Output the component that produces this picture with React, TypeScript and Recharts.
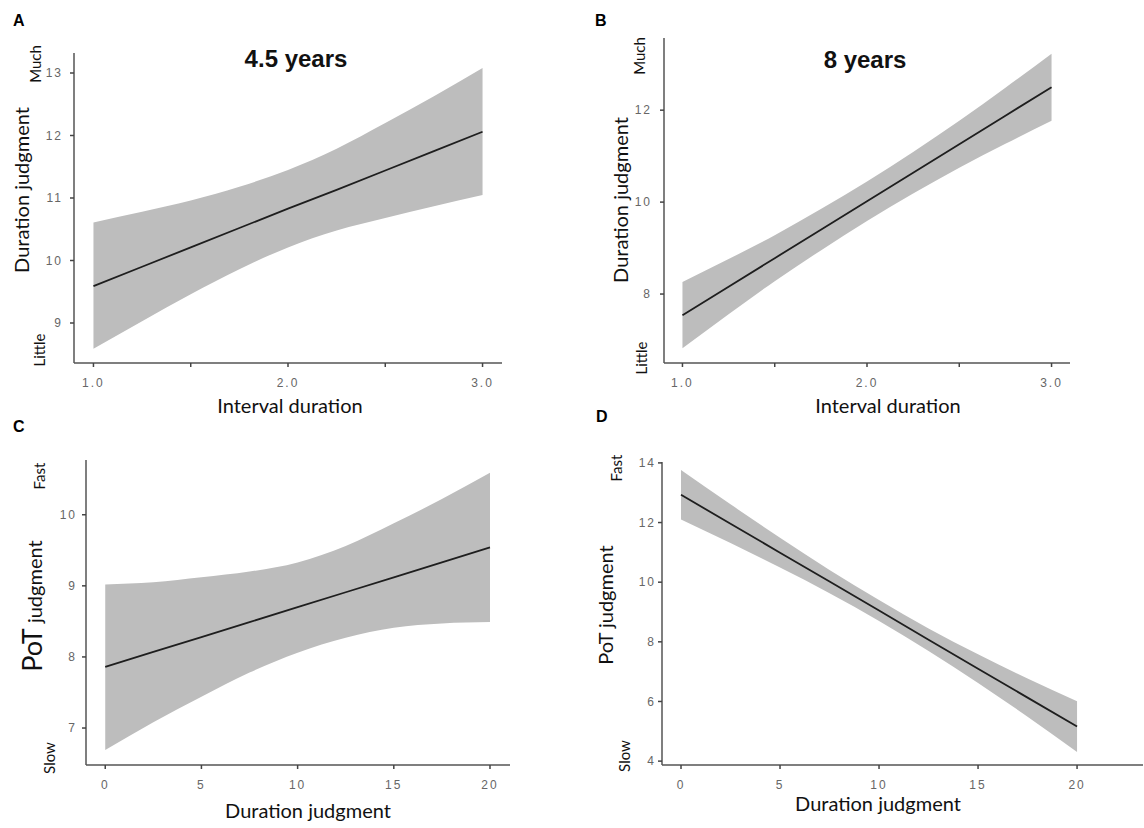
import React from "react";
import {
  ComposedChart,
  Area,
  Line,
  XAxis,
  YAxis,
} from "recharts";

// Panel A: 4.5 years
const xA = [1, 1.25, 1.5, 1.75, 2, 2.25, 2.5, 2.75, 3];
const fitA = [9.59, 9.9, 10.21, 10.52, 10.83, 11.13, 11.44, 11.75, 12.06];
const loA = [8.59, 9.03, 9.46, 9.86, 10.21, 10.48, 10.68, 10.87, 11.05];
const hiA = [10.61, 10.78, 10.96, 11.18, 11.45, 11.79, 12.2, 12.63, 13.08];

// Panel B: 8 years
const xB = [1, 1.25, 1.5, 1.75, 2, 2.25, 2.5, 2.75, 3];
const fitB = [7.54, 8.16, 8.78, 9.4, 10.02, 10.64, 11.26, 11.88, 12.5];
const loB = [6.82, 7.56, 8.28, 8.95, 9.59, 10.19, 10.75, 11.27, 11.77];
const hiB = [8.26, 8.76, 9.28, 9.85, 10.45, 11.09, 11.77, 12.49, 13.23];

// Panel C
const xC = [0, 2.5, 5, 7.5, 10, 12.5, 15, 17.5, 20];
const fitC = [7.86, 8.07, 8.28, 8.49, 8.7, 8.91, 9.12, 9.33, 9.54];
const loC = [6.69, 7.08, 7.44, 7.78, 8.06, 8.27, 8.41, 8.47, 8.49];
const hiC = [9.02, 9.05, 9.12, 9.2, 9.33, 9.56, 9.88, 10.22, 10.59];

// Panel D
const xD = [0, 2.5, 5, 7.5, 10, 12.5, 15, 17.5, 20];
const fitD = [12.93, 11.96, 10.99, 10.02, 9.05, 8.07, 7.1, 6.13, 5.16];
const loD = [12.1, 11.31, 10.49, 9.63, 8.7, 7.69, 6.62, 5.49, 4.31];
const hiD = [13.76, 12.61, 11.49, 10.41, 9.4, 8.45, 7.58, 6.77, 6.01];

const intervalTicks = [1, 1.5, 2, 2.5, 3];
const judgmentTicks = [0, 5, 10, 15, 20];
const yTicksA = [9, 10, 11, 12, 13];
const yTicksB = [8, 10, 12];
const yTicksC = [7, 8, 9, 10];
const yTicksD = [4, 6, 8, 10, 12, 14];

const build = (xs: number[], fit: number[], lo: number[], hi: number[]) =>
  xs.map((x, i) => ({ x, fit: fit[i], band: [lo[i], hi[i]] }));

const tickStyle = {
  fill: "#666",
  fontSize: 12,
  fontFamily: "Liberation Sans, Arial, sans-serif",
  letterSpacing: 2,
};

const intervalFmt = (v: number) => (v === 1.5 || v === 2.5 ? "" : v.toFixed(1));

interface PanelProps {
  data: { x: number; fit: number; band: number[] }[];
  width: number;
  height: number;
  margin: { top: number; right: number; bottom: number; left: number };
  xDomain: [number, number];
  yDomain: [number, number];
  xTicks: number[];
  yTicks: number[];
  xFmt?: (v: number) => string;
  yMargin: number;
}

function Panel(p: PanelProps) {
  return (
    <ComposedChart width={p.width} height={p.height} data={p.data} margin={p.margin}>
      <XAxis
        dataKey="x"
        type="number"
        domain={p.xDomain}
        allowDataOverflow
        ticks={p.xTicks}
        tickFormatter={p.xFmt}
        interval={0}
        height={30}
        tickSize={4}
        tickMargin={11}
        tick={tickStyle}
        axisLine={{ stroke: "#555", strokeWidth: 1.5 }}
        tickLine={{ stroke: "#444", strokeWidth: 1.5 }}
      />
      <YAxis
        type="number"
        domain={p.yDomain}
        allowDataOverflow
        ticks={p.yTicks}
        interval={0}
        width={40}
        tickSize={4}
        tickMargin={p.yMargin}
        tick={tickStyle}
        axisLine={{ stroke: "#555", strokeWidth: 1.5 }}
        tickLine={{ stroke: "#444", strokeWidth: 1.5 }}
      />
      <Area
        dataKey="band"
        type="monotone"
        fill="#bdbdbd"
        fillOpacity={1}
        stroke="none"
        isAnimationActive={false}
      />
      <Line
        dataKey="fit"
        type="linear"
        stroke="#1e1e1e"
        strokeWidth={1.8}
        dot={false}
        isAnimationActive={false}
      />
    </ComposedChart>
  );
}

const labelFont = "Lato, 'Open Sans', sans-serif";
const boldFont = "Liberation Sans, Arial, sans-serif";

function VText({ x, y, size, children }: { x: number; y: number; size: number; children: React.ReactNode }) {
  return (
    <text
      x={x}
      y={y}
      transform={`rotate(-90, ${x}, ${y})`}
      textAnchor="middle"
      fontFamily={labelFont}
      fontSize={size}
      fill="#111"
    >
      {children}
    </text>
  );
}

export default function App() {
  return (
    <div
      style={{
        position: "absolute",
        left: 0,
        top: 0,
        width: 1144,
        height: 828,
        background: "#fff",
        overflow: "hidden",
      }}
    >
      <div style={{ position: "absolute", left: 0, top: 0 }}>
        <Panel
          data={build(xA, fitA, loA, hiA)}
          width={572}
          height={420}
          margin={{ top: 53, right: 70, bottom: 27, left: 34 }}
          xDomain={[0.9, 3.1]}
          yDomain={[8.36, 13.32]}
          xTicks={intervalTicks}
          yTicks={yTicksA}
          xFmt={intervalFmt}
          yMargin={7}
        />
      </div>
      <div style={{ position: "absolute", left: 572, top: 0 }}>
        <Panel
          data={build(xB, fitB, loB, hiB)}
          width={572}
          height={420}
          margin={{ top: 38, right: 74, bottom: 27, left: 52 }}
          xDomain={[0.9, 3.1]}
          yDomain={[6.5, 13.57]}
          xTicks={intervalTicks}
          yTicks={yTicksB}
          xFmt={intervalFmt}
          yMargin={8}
        />
      </div>
      <div style={{ position: "absolute", left: 0, top: 420 }}>
        <Panel
          data={build(xC, fitC, loC, hiC)}
          width={572}
          height={408}
          margin={{ top: 40, right: 62, bottom: 33, left: 46 }}
          xDomain={[-1, 21.04]}
          yDomain={[6.48, 10.77]}
          xTicks={judgmentTicks}
          yTicks={yTicksC}
          yMargin={5}
        />
      </div>
      <div style={{ position: "absolute", left: 572, top: 420 }}>
        <Panel
          data={build(xD, fitD, loD, hiD)}
          width={572}
          height={408}
          margin={{ top: 42, right: 1, bottom: 33, left: 50 }}
          xDomain={[-0.96, 23.33]}
          yDomain={[3.87, 14.03]}
          xTicks={judgmentTicks}
          yTicks={yTicksD}
          yMargin={2}
        />
      </div>

      <svg
        width={1144}
        height={828}
        style={{ position: "absolute", left: 0, top: 0, pointerEvents: "none" }}
      >
        {/* panel letters */}
        <g fontFamily={boldFont} fontWeight="bold" fontSize={16} fill="#000">
          <text x={13} y={26}>A</text>
          <text x={595} y={26}>B</text>
          <text x={13} y={432}>C</text>
          <text x={596} y={422}>D</text>
        </g>
        {/* titles */}
        <g fontFamily={boldFont} fontWeight="bold" fontSize={24} fill="#111" textAnchor="middle">
          <text x={296} y={67}>4.5 years</text>
          <text x={865} y={68}>8 years</text>
        </g>
        {/* x axis titles */}
        <g fontFamily={labelFont} fontSize={20} fill="#111" textAnchor="middle">
          <text x={290} y={413}>Interval duration</text>
          <text x={888} y={413}>Interval duration</text>
          <text x={308} y={818}>Duration judgment</text>
          <text x={878} y={811}>Duration judgment</text>
        </g>
        {/* y axis titles */}
        <VText x={29} y={190} size={20}>Duration judgment</VText>
        <VText x={628} y={200} size={20}>Duration judgment</VText>
        <VText x={42} y={606} size={20}>
          <tspan fontSize={27}>PoT</tspan> judgment
        </VText>
        <VText x={613} y={605} size={20}>PoT judgment</VText>
        {/* anchors */}
        <VText x={41} y={64} size={15}>Much</VText>
        <VText x={45} y={350} size={15}>Little</VText>
        <VText x={645} y={56} size={15}>Much</VText>
        <VText x={647} y={358} size={15}>Little</VText>
        <VText x={45} y={476} size={15}>Fast</VText>
        <VText x={55} y={758} size={15}>Slow</VText>
        <VText x={622} y={468} size={15}>Fast</VText>
        <VText x={630} y={756} size={15}>Slow</VText>
      </svg>
    </div>
  );
}
